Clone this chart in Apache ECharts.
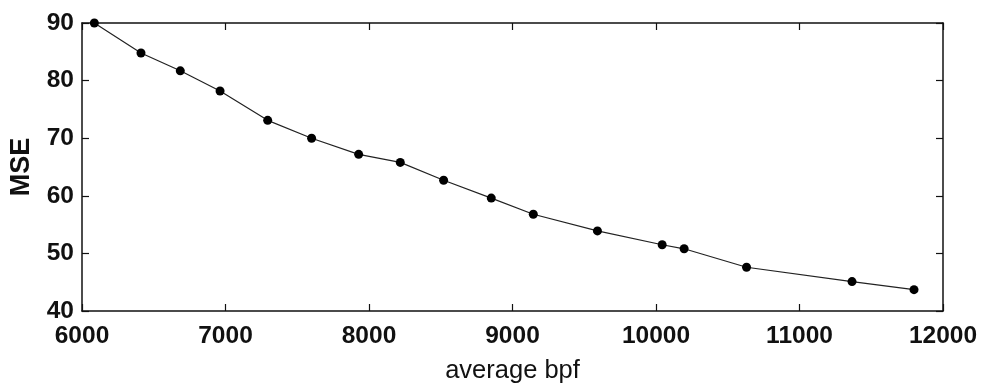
<!DOCTYPE html>
<html>
<head>
<meta charset="utf-8">
<script src="https://cdn.jsdelivr.net/npm/echarts@6/dist/echarts.min.js"></script>
<style>
  html, body { margin: 0; padding: 0; background: #fff; }
  #chart { width: 986px; height: 383px; }
</style>
</head>
<body>
<div id="chart"></div>
<script>
// average bits per frame vs MSE
const bpf = [6086, 6411, 6685, 6962, 7294, 7600, 7928, 8218, 8520, 8852, 9145, 9592, 10043, 10196, 10631, 11366, 11798]
const mse = [90.0, 84.8, 81.7, 78.2, 73.1, 70.0, 67.2, 65.8, 62.7, 59.6, 56.8, 53.9, 51.5, 50.8, 47.6, 45.1, 43.7]

const font = 'Liberation Sans, Arial, Helvetica, sans-serif'
const ink = '#111'

const c = echarts.init(document.getElementById('chart'))

const axisLine = { show: true, lineStyle: { color: ink, width: 1.5 } }
const axisTick = { show: true, inside: true, length: 7, lineStyle: { color: ink, width: 1.2 } }
const tickLabel = { color: ink, fontSize: 24.5, fontWeight: 'bold', fontFamily: font }

c.setOption({
  animation: false,
  grid: { left: 82, right: 43, top: 23, bottom: 72, show: false, outerBoundsMode: 'none', containLabel: false },
  xAxis: [
    {
      type: 'value', min: 6000, max: 12000, interval: 1000, position: 'bottom',
      name: 'average bpf', nameLocation: 'middle', nameGap: 47,
      nameTextStyle: { color: ink, fontSize: 25.5, fontFamily: font },
      axisLine, axisTick,
      axisLabel: { ...tickLabel, margin: 13, formatter: v => String(v) },
      splitLine: { show: false },
    },
    {
      type: 'value', min: 6000, max: 12000, interval: 1000, position: 'top',
      axisLine, axisTick, axisLabel: { show: false }, splitLine: { show: false },
    },
  ],
  yAxis: [
    {
      type: 'value', min: 40, max: 90, interval: 10, position: 'left',
      name: 'MSE', nameLocation: 'middle', nameGap: 47,
      nameTextStyle: { color: ink, fontSize: 27, fontWeight: 'bold', fontFamily: font },
      axisLine, axisTick,
      axisLabel: { ...tickLabel, margin: 8 },
      splitLine: { show: false },
    },
    {
      type: 'value', min: 40, max: 90, interval: 10, position: 'right',
      axisLine, axisTick, axisLabel: { show: false }, splitLine: { show: false },
    },
  ],
  series: [{
    type: 'line',
    data: bpf.map((x, i) => [x, mse[i]]),
    symbol: 'circle', symbolSize: 9,
    lineStyle: { color: '#222', width: 1.2 },
    itemStyle: { color: '#000' },
  }],
})
</script>
</body>
</html>
